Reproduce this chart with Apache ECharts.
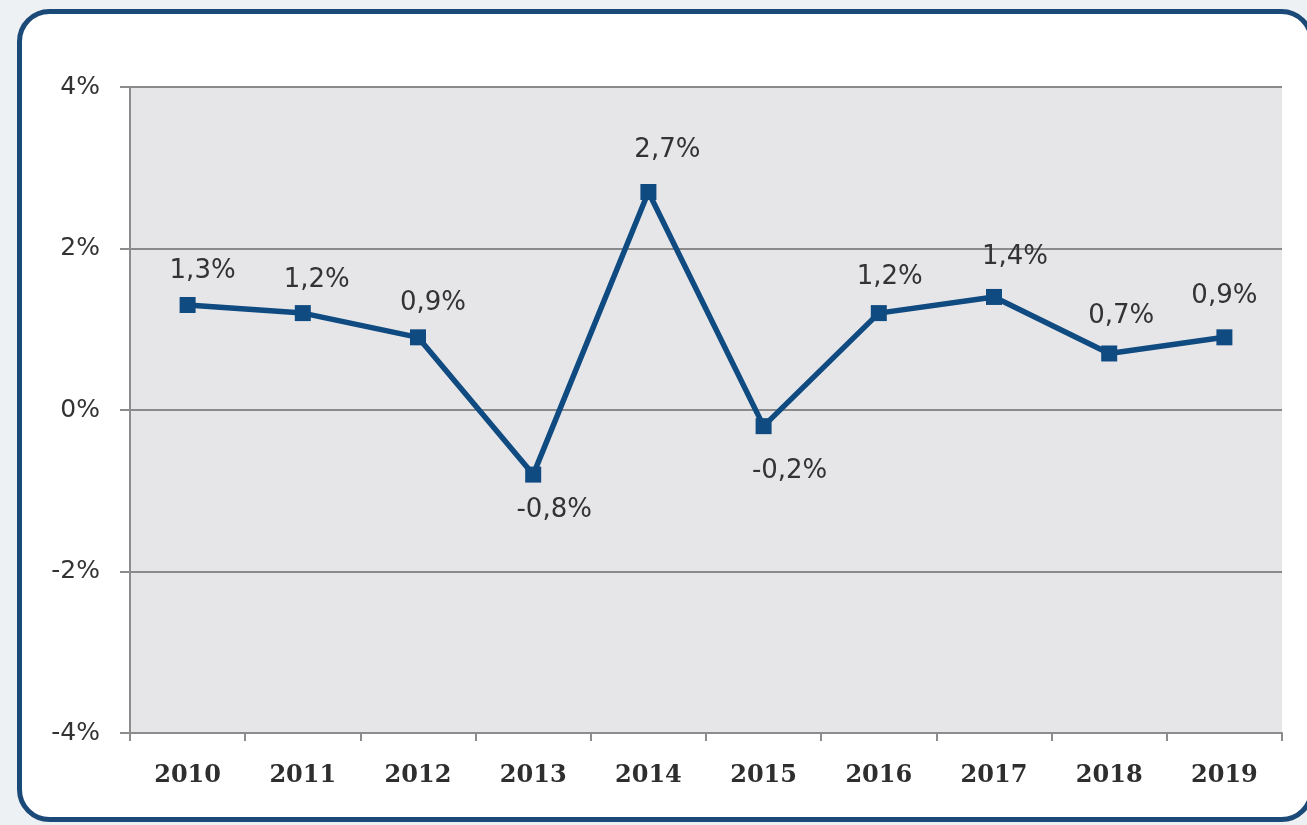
<!DOCTYPE html>
<html>
<head>
<meta charset="utf-8">
<script src="https://cdn.jsdelivr.net/npm/echarts@6/dist/echarts.min.js"></script>
<style>
  html, body { margin: 0; padding: 0; background: #edf1f4; }
  #chart { width: 1307px; height: 825px; }
</style>
</head>
<body>
<div id="chart"></div>
<script>
// Annual change, in percent
const years = ['2010', '2011', '2012', '2013', '2014', '2015', '2016', '2017', '2018', '2019'];
const changes = [1.3, 1.2, 0.9, -0.8, 2.7, -0.2, 1.2, 1.4, 0.7, 0.9];
const yTicks = [-4, -2, 0, 2, 4];

// Label placement: points whose label sits beneath the marker, plus small per-label nudges
const labelBelow = ['2013', '2015'];
const labelNudge = {
  '2010': [15, 0], '2011': [14, 1], '2012': [15, 0], '2013': [21, 0], '2014': [19, -8],
  '2015': [26, 9], '2016': [11, -2], '2017': [21, -6], '2018': [12, -3], '2019': [0, -7]
};

const fmt = v => String(v).replace('.', ',') + '%';
const BLUE = '#0f4a80';
const GREY = '#8c8c8c';

const chart = echarts.init(document.getElementById('chart'));
chart.setOption({
  backgroundColor: '#edf1f4',
  animation: false,
  graphic: [{
    type: 'rect',
    z: -10,
    silent: true,
    shape: { x: 19.5, y: 11.5, width: 1292, height: 808, r: 30 },
    style: { fill: '#ffffff', stroke: '#1b4a78', lineWidth: 5 }
  }],
  grid: { left: 130, right: 25, top: 87, bottom: 92, show: true, backgroundColor: '#e6e6e9', borderWidth: 0 },
  xAxis: {
    type: 'category',
    data: years,
    boundaryGap: true,
    axisLine: { onZero: false, lineStyle: { color: GREY, width: 2 } },
    axisTick: { show: true, length: 8, lineStyle: { color: GREY, width: 2 } },
    axisLabel: {
      margin: 31,
      fontFamily: 'DejaVu Serif',
      fontWeight: 'bold',
      fontSize: 24,
      color: '#2e2e2e'
    }
  },
  yAxis: {
    type: 'value',
    min: yTicks[0],
    max: yTicks[yTicks.length - 1],
    interval: 2,
    axisLine: { show: true, lineStyle: { color: GREY, width: 2 } },
    axisTick: { show: true, length: 10, lineStyle: { color: GREY, width: 2 } },
    splitLine: { lineStyle: { color: '#8a8a8a', width: 2 } },
    axisLabel: {
      margin: 30,
      fontFamily: 'DejaVu Sans',
      fontSize: 25,
      color: '#333333',
      formatter: v => v + '%'
    }
  },
  series: [{
    type: 'line',
    data: changes.map((v, i) => {
      const below = labelBelow.includes(years[i]);
      return {
        value: v,
        label: {
          position: below ? 'bottom' : 'top',
          distance: below ? 15 : 13,
          offset: labelNudge[years[i]]
        }
      };
    }),
    symbol: 'rect',
    symbolSize: 16,
    itemStyle: { color: BLUE },
    lineStyle: { color: BLUE, width: 5.5 },
    z: 5,
    label: {
      show: true,
      fontFamily: 'DejaVu Sans',
      fontSize: 26,
      color: '#333333',
      formatter: p => fmt(p.value)
    }
  }]
});
</script>
</body>
</html>
